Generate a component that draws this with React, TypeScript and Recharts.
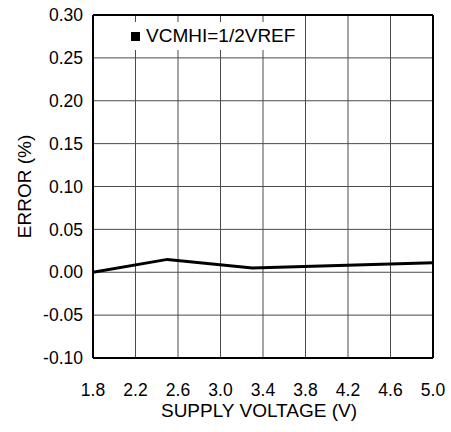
import {
  CartesianGrid,
  Label,
  Line,
  LineChart,
  ReferenceLine,
  XAxis,
  YAxis,
} from "recharts";

const voltage = [1.8, 2.5, 3.3, 5.0];
const errorPct = [0.0, 0.015, 0.005, 0.011];
const xTicks = [1.8, 2.2, 2.6, 3.0, 3.4, 3.8, 4.2, 4.6, 5.0];
const yTicks = [-0.1, -0.05, 0, 0.05, 0.1, 0.15, 0.2, 0.25, 0.3];
const seriesName = "VCMHI=1/2VREF";

const data = voltage.map((v, i) => ({ v, err: errorPct[i] }));

const font = "Liberation Sans, Arial, sans-serif";

// legend sits inside the plot, on a white patch that hides the grid behind it
function LegendBox() {
  return (
    <div
      style={{
        position: "absolute",
        top: 22,
        left: 127,
        display: "flex",
        alignItems: "center",
        background: "#fff",
        padding: "2px 4px",
        fontFamily: font,
        fontSize: 19,
        color: "#000",
        lineHeight: "24px",
      }}
    >
      <span
        style={{
          display: "inline-block",
          width: 9,
          height: 9,
          background: "#000",
          marginRight: 6,
        }}
      />
      {seriesName}
    </div>
  );
}

export default function App() {
  return (
    <div style={{ position: "relative", width: 451, height: 432 }}>
      <style>{"body{margin:0;overflow:hidden}"}</style>
      <LineChart
        width={451}
        height={432}
        data={data}
        margin={{ top: 15, right: 18, bottom: 0, left: 0 }}
        style={{ overflow: "visible" }}
      >
        <CartesianGrid stroke="#4a4a4a" strokeWidth={1} />
        <XAxis
          dataKey="v"
          type="number"
          domain={[1.8, 5.0]}
          ticks={xTicks}
          tickFormatter={(t) => Number(t).toFixed(1)}
          tickLine={false}
          axisLine={false}
          tickMargin={20}
          height={74}
          tick={{ fontSize: 17.5, fill: "#000", fontFamily: font }}
          interval={0}
        >
          <Label
            content={({ viewBox }: any) => (
              <text
                x={viewBox.x + viewBox.width / 2 - 4}
                y={viewBox.y + 59}
                textAnchor="middle"
                fontSize={19}
                fontFamily={font}
                fill="#000"
              >
                SUPPLY VOLTAGE (V)
              </text>
            )}
          />
        </XAxis>
        <YAxis
          type="number"
          domain={[-0.1, 0.3]}
          ticks={yTicks}
          tickFormatter={(t) => Number(t).toFixed(2)}
          tickLine={false}
          axisLine={false}
          tickMargin={4}
          width={93}
          tick={{ fontSize: 17.5, fill: "#000", fontFamily: font }}
          interval={0}
        >
          <Label
            content={({ viewBox }: any) => {
              const cx = viewBox.x + 24;
              const cy = viewBox.y + viewBox.height / 2;
              return (
                <text
                  x={cx}
                  y={cy}
                  transform={`rotate(-90 ${cx} ${cy})`}
                  textAnchor="middle"
                  dominantBaseline="central"
                  fontSize={19}
                  fontFamily={font}
                  fill="#000"
                >
                  ERROR (%)
                </text>
              );
            }}
          />
        </YAxis>
        <ReferenceLine x={1.8} stroke="#000" strokeWidth={2} />
        <ReferenceLine x={5.0} stroke="#000" strokeWidth={2} />
        <ReferenceLine y={-0.1} stroke="#000" strokeWidth={2} />
        <ReferenceLine y={0.3} stroke="#000" strokeWidth={2} />
        <Line
          type="linear"
          dataKey="err"
          stroke="#000"
          strokeWidth={3}
          dot={false}
          isAnimationActive={false}
        />
      </LineChart>
      <LegendBox />
    </div>
  );
}
